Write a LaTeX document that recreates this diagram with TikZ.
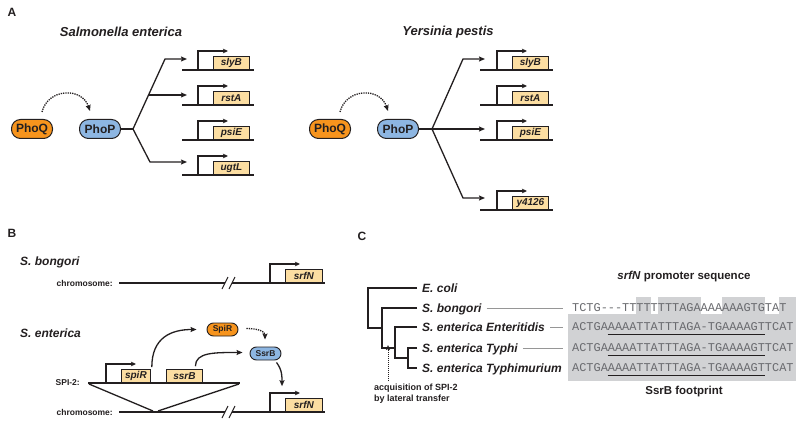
\documentclass[tikz,border=0pt]{standalone}
\usepackage{fontspec}
\setmainfont{Liberation Sans}
\setmonofont{Liberation Mono}
\usetikzlibrary{arrows.meta,calc}
\definecolor{ink}{RGB}{35,31,32}
\definecolor{qfill}{RGB}{247,148,29}
\definecolor{pfill}{RGB}{141,182,226}
\definecolor{gfill}{RGB}{252,222,162}
\definecolor{seqbg}{RGB}{209,210,212}
\definecolor{seqtx}{RGB}{105,106,110}
\definecolor{thin}{RGB}{150,150,150}
\tikzset{
  tip/.tip={Stealth[length=6pt,width=5pt,inset=1pt]},
  conn/.style={line width=1.3pt},
  arr/.style={line width=1.3pt,-tip},
  dotarr/.style={line width=1.3pt,densely dotted,-tip},
  chrom/.style={line width=2.6pt},
  brk/.style={line width=1.1pt},
  prom/.style={line width=1.1pt,-{Stealth[length=5pt,width=4.5pt,inset=1pt]}},
  genebox/.style={draw=ink,fill=gfill,line width=0.8pt,inner sep=0pt,minimum height=13pt,
     anchor=south west,font=\fontsize{10}{11}\selectfont\bfseries\itshape},
  pill/.style={draw=ink,line width=1pt,rounded corners=9pt,minimum width=41pt,minimum height=19pt,
     inner sep=0pt,font=\fontsize{12}{13}\selectfont\bfseries},
  phoq/.style={pill,fill=qfill},
  phop/.style={pill,fill=pfill},
  spill/.style={draw=ink,line width=0.9pt,rounded corners=6.5pt,minimum width=31pt,minimum height=13pt,
     inner sep=0pt,font=\fontsize{8.5}{9}\selectfont\bfseries},
  panel/.style={font=\fontsize{12}{13}\selectfont\bfseries,inner sep=0pt},
  title/.style={font=\fontsize{13}{15}\selectfont\bfseries\itshape,inner sep=0pt},
  species/.style={font=\fontsize{12}{14}\selectfont\bfseries\itshape,inner sep=0pt,anchor=west},
  small/.style={font=\fontsize{8.5}{10}\selectfont\bfseries,inner sep=0pt},
  tlab/.style={font=\fontsize{12}{14}\selectfont\bfseries\itshape,inner sep=0pt,anchor=west,
     text height=8.6pt,text depth=0pt},
  tree/.style={line width=1.5pt},
  seq/.style={font=\fontsize{11.9}{13}\selectfont\ttfamily,text=seqtx,inner sep=0pt,anchor=west,
     text height=7pt,text depth=0pt},
  uline/.style={line width=1.8pt},
  glink/.style={line width=0.6pt,draw=thin},
}
\newcommand\gbox[5]{%
  \node[genebox,minimum width=#4] (#1) at (#2,#3) {#5};
  \draw[prom] ($(#1.south west)+(-15,0)$) -- ++(0,-19) -- ++(30,0);
}
\begin{document}
\begin{tikzpicture}[x=1pt,y=-1pt,color=ink]
\useasboundingbox (0,0) rectangle (800,425);

% ---------------- Panel A ----------------
\node[panel] (lA) at (12,12) {A};
\node[title] (tS) at (121,32) {Salmonella enterica};
\node[title] (tY) at (448,32) {Yersinia pestis};

% left
\node[phoq] (qL) at (32,129) {PhoQ};
\node[phop] (pL) at (100,129) {PhoP};
\draw[dotarr] ($(qL.north)+(10,-7)$) .. controls +(6,-24) and +(-8,-24) .. ($(pL.north)+(-10,-8)$);
\coordinate (bL) at (133,129);
\draw[conn] (pL.east) -- (bL);
\draw[arr] (bL) -- (165,59) -- (187,59);
\draw[arr] (148,95) -- (187,95);
\draw[arr] (bL) -- (150,162) -- (187,162);
\gbox{slyL}{213}{70}{36pt}{slyB}
\gbox{rstL}{213}{105}{36pt}{rstA}
\gbox{psiL}{213}{140}{36pt}{psiE}
\gbox{ugtL}{213}{175}{36pt}{ugtL}
\foreach \yy in {70,105,140,175} \draw[chrom] (182,\yy) -- (254,\yy);

% right
\node[phoq] (qR) at (330,129) {PhoQ};
\node[phop] (pR) at (398,129) {PhoP};
\draw[dotarr] ($(qR.north)+(10,-7)$) .. controls +(6,-24) and +(-8,-24) .. ($(pR.north)+(-10,-8)$);
\coordinate (bR) at (432,129);
\draw[conn] (pR.east) -- (bR);
\draw[arr] (bR) -- (463,59) -- (485,59);
\draw[arr] (bR) -- (485,129);
\draw[arr] (bR) -- (463,198) -- (485,198);
\gbox{slyR}{512}{70}{36pt}{slyB}
\gbox{rstR}{512}{105}{36pt}{rstA}
\gbox{psiR}{512}{140}{36pt}{psiE}
\gbox{yR}{512}{210}{36pt}{y4126}
\foreach \yy in {70,105,140,210} \draw[chrom] (480,\yy) -- (553,\yy);

% ---------------- Panel B ----------------
\node[panel] (lB) at (12,233) {B};
\node[species] (sb) at (20,262) {S. bongori};
\node[species] (se) at (20,333) {S. enterica};

\node[small,anchor=east] (ch1) at (113,283) {chromosome:};
\gbox{srf1}{285}{283}{37pt}{srfN}
\draw[chrom] (119,283) -- (225,283);
\draw[chrom] (232,283) -- (325,283);
\draw[brk] (222,289) -- (228,277);
\draw[brk] (229,289) -- (235,277);

\node[small,anchor=east] (ch2) at (113,412) {chromosome:};
\gbox{srf2}{285}{412}{37pt}{srfN}
\draw[chrom] (119,412) -- (225,412);
\draw[chrom] (232,412) -- (325,412);
\draw[brk] (222,418) -- (228,406);
\draw[brk] (229,418) -- (235,406);

\node[small,anchor=east] (spi) at (80,383) {SPI-2:};
\gbox{spiR}{121}{383}{29pt}{spiR}
\node[genebox,minimum width=36pt] (ssrB) at (166,383) {ssrB};
\draw[chrom] (88,383) -- (240,383);
\draw[conn] (89,384) -- (153,411);
\draw[conn] (239,384) -- (158,411);

\node[spill,fill=qfill] (SpiR) at (222.5,329.5) {SpiR};
\node[spill,fill=pfill] (SsrB) at (265.5,353.5) {SsrB};
\draw[arr] ($(spiR.north east)+(1,-2)$) .. controls +(0,-30) and +(-25,0) .. ($(SpiR.west)+(-10,0)$);
\draw[arr] ($(ssrB.north)+(11,-3)$) .. controls +(0,-14) and +(-28,0) .. ($(SsrB.west)+(-7,-1)$);
\draw[dotarr] ($(SpiR.east)+(8,-1)$) .. controls +(12,0) and +(0,-8) .. ($(SsrB.north)+(-0.5,-7)$);
\draw[arr] ($(SsrB.south)+(11,2)$) .. controls +(6,8) and +(0,-9) .. ($(srf2.north west)+(-3,-12)$);

% ---------------- Panel C ----------------
\node[panel] (lC) at (362,236) {C};

\fill[seqbg] (568,314) rectangle (796,381);
\foreach \a/\b in {636.3/650.6, 657.7/700.5, 721.9/764.8, 779.0/796} \fill[seqbg] (\a,297) rectangle (\b,314.5);

\node[font=\fontsize{11.5}{13}\selectfont\bfseries,inner sep=0pt] (ptitle) at (684,277) {\textit{srfN} promoter sequence};
\node[font=\fontsize{11.5}{13}\selectfont\bfseries,inner sep=0pt] (fp) at (684,392) {SsrB footprint};

\node[tlab] (ecoli) at (422,288) {E. coli};
\node[tlab] (sbon) at (422,308) {S. bongori};
\node[tlab] (sent) at (422,327) {S. enterica Enteritidis};
\node[tlab] (styphi) at (422,348) {S. enterica Typhi};
\node[tlab] (stym) at (422,368) {S. enterica Typhimurium};

\draw[tree] ($(ecoli.west)+(-5,0)$) -| (368,328) -- (382,328);
\draw[tree] ($(sbon.west)+(-5,0)$) -| (382,348) -- (395,348);
\draw[tree] ($(sent.west)+(-5,0)$) -| (395,358) -- (408,358);
\draw[tree] ($(styphi.west)+(-5,0)$) -| (408,368) -- ($(stym.west)+(-5,0)$);

\coordinate (acq) at (388,381);
\draw[line width=1pt,densely dotted,-{Stealth[length=5pt,width=4pt,inset=1pt]}] (acq) -- (388,345);
\node[small,anchor=north west,align=left,font=\fontsize{9}{10.5}\selectfont\bfseries] (acqt) at (374,384) {acquisition of SPI-2\\by lateral transfer};

\node[seq] (qB) at (572,308) {TCTG---TTTTTTTTAGAAAAAAAGTGTAT};
\node[seq] (qE) at (572,327) {ACTGAAAAATTATTTAGA-TGAAAAGTTCAT};
\node[seq] (qT) at (572,348) {ACTGAAAAATTATTTAGA-TGAAAAGTTCAT};
\node[seq] (qM) at (572,368) {ACTGAAAAATTATTTAGA-TGAAAAGTTCAT};

\draw[glink] ($(sbon.east)+(5,0)$) -- ($(qB.west)+(-9,0)$);
\draw[glink] ($(sent.east)+(5,0)$) -- ($(qE.west)+(-9,0)$);
\draw[glink] ($(styphi.east)+(5,0)$) -- ($(qT.west)+(-9,0)$);

\foreach \n in {qE,qT,qM} \draw[uline] ($(\n.west)+(35.7,7.5)$) -- ($(\n.west)+(192.8,7.5)$);
\end{tikzpicture}
\end{document}
